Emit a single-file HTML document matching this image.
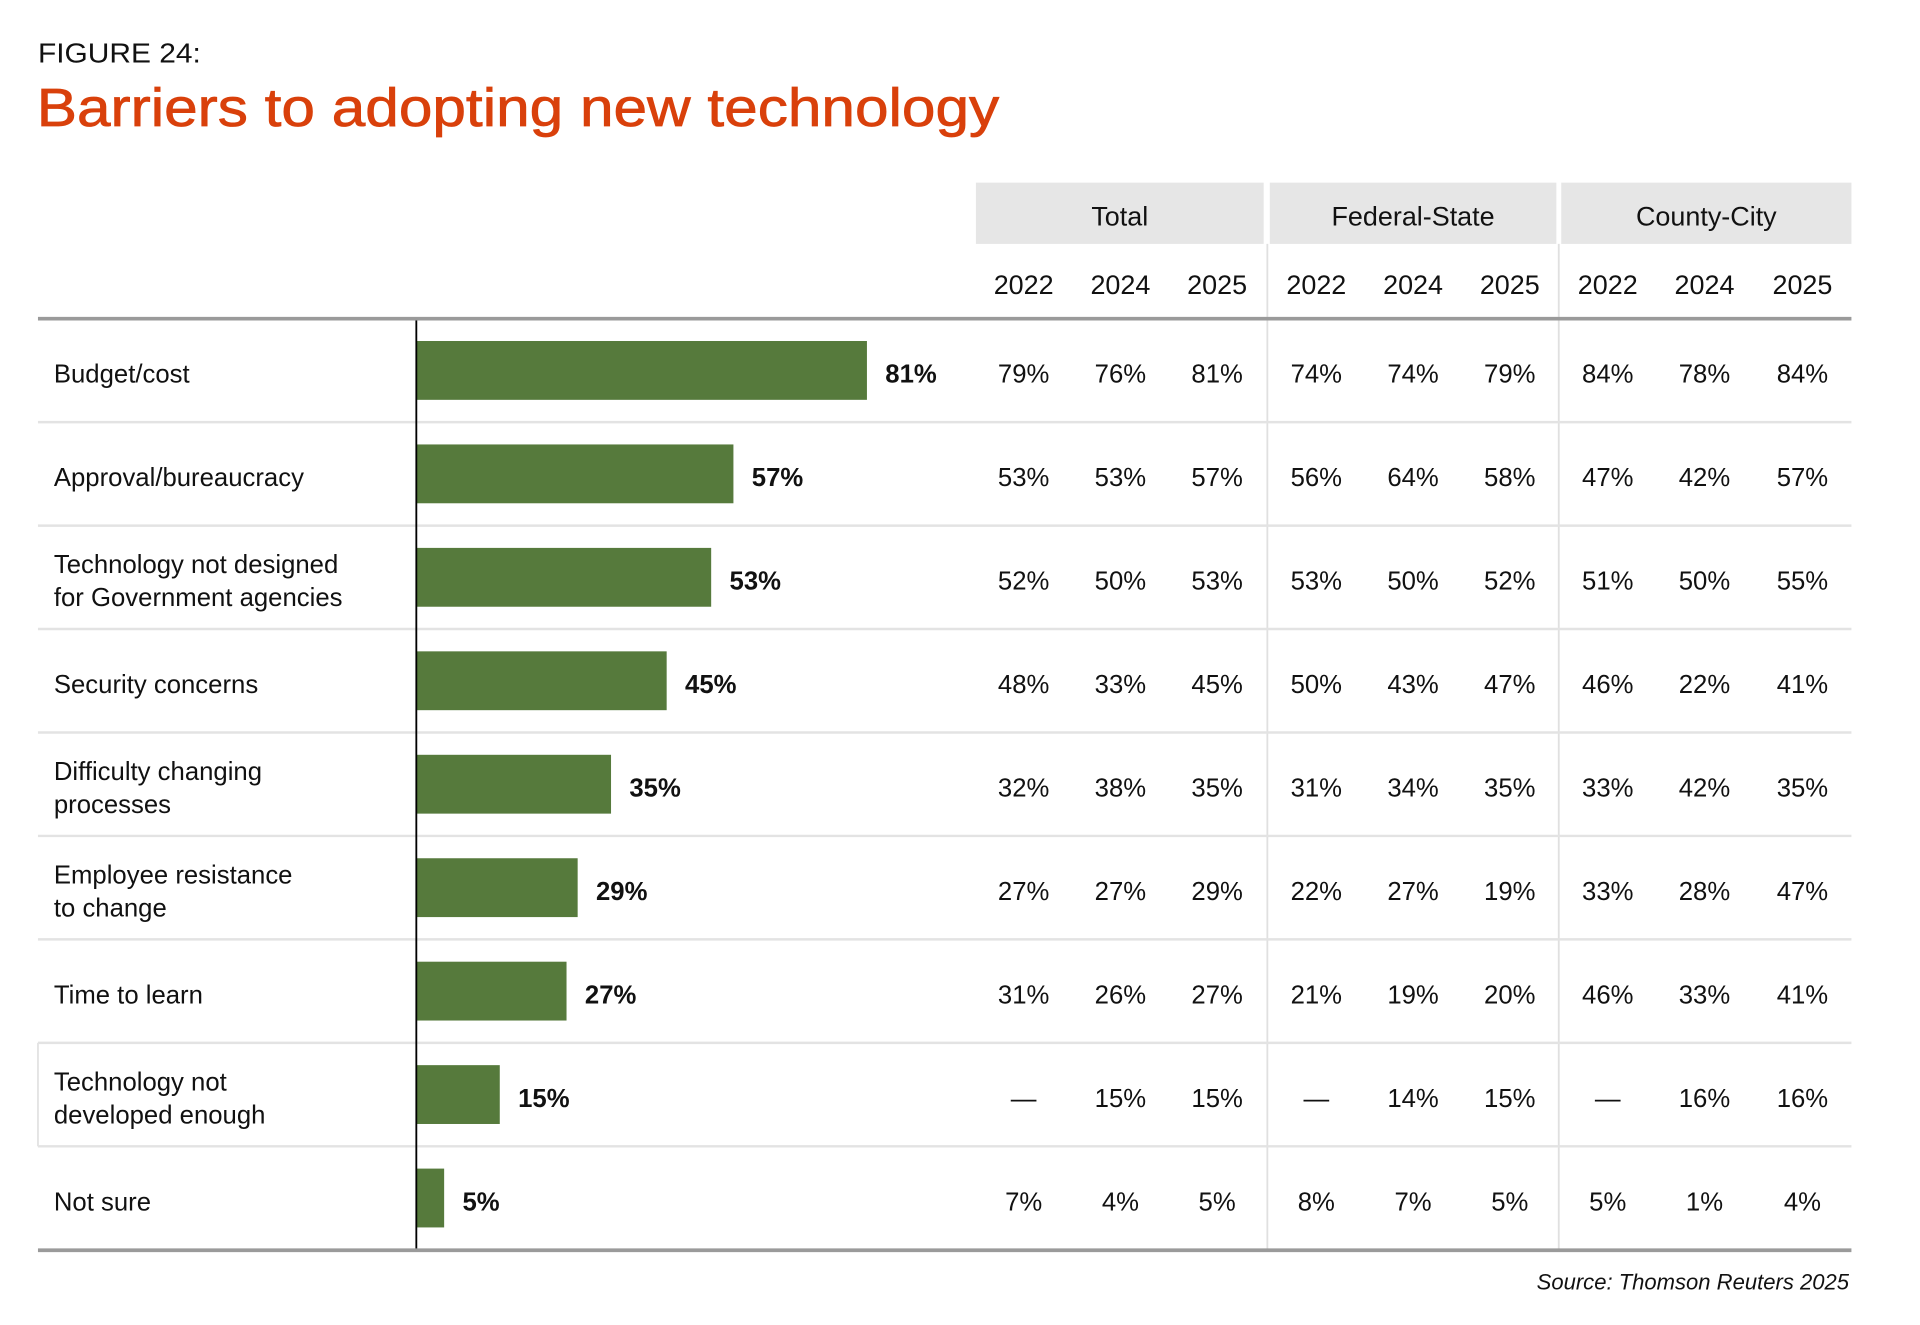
<!DOCTYPE html>
<html><head><meta charset="utf-8">
<style>
html,body{margin:0;padding:0;background:#fff;}
svg{display:block;}
text{font-family:"Liberation Sans",sans-serif;}
</style></head>
<body>
<svg id="chart" width="1920" height="1325" viewBox="0 0 1568 1081" preserveAspectRatio="none" xmlns="http://www.w3.org/2000/svg">
<text x="31" y="51" font-size="23" fill="#111" textLength="133" lengthAdjust="spacingAndGlyphs">FIGURE 24:</text>
<text x="30" y="103" font-size="44" fill="#d9400b" stroke="#d9400b" stroke-width="0.6" textLength="786" lengthAdjust="spacingAndGlyphs">Barriers to adopting new technology</text>
<g id="marks"></g>
<text x="1510" y="1052" font-size="18" font-style="italic" fill="#111" text-anchor="end">Source: Thomson Reuters 2025</text>
</svg>
<script>
const categories = [["Budget/cost"],["Approval/bureaucracy"],["Technology not designed","for Government agencies"],["Security concerns"],["Difficulty changing","processes"],["Employee resistance","to change"],["Time to learn"],["Technology not","developed enough"],["Not sure"]];
const barValues = [81,57,53,45,35,29,27,15,5];
const groups = ["Total","Federal-State","County-City"];
const years = ["2022","2024","2025"];
const totalValues = [["79%","76%","81%"],["53%","53%","57%"],["52%","50%","53%"],["48%","33%","45%"],["32%","38%","35%"],["27%","27%","29%"],["31%","26%","27%"],["—","15%","15%"],["7%","4%","5%"]];
const fedStateValues = [["74%","74%","79%"],["56%","64%","58%"],["53%","50%","52%"],["50%","43%","47%"],["31%","34%","35%"],["22%","27%","19%"],["21%","19%","20%"],["—","14%","15%"],["8%","7%","5%"]];
const countyCityValues = [["84%","78%","84%"],["47%","42%","57%"],["51%","50%","55%"],["46%","22%","41%"],["33%","42%","35%"],["33%","28%","47%"],["46%","33%","41%"],["—","16%","16%"],["5%","1%","4%"]];

const NS="http://www.w3.org/2000/svg";
const g=document.getElementById('marks');
function el(tag,attrs,txt){const e=document.createElementNS(NS,tag);for(const k in attrs)e.setAttribute(k,attrs[k]);if(txt!==undefined)e.textContent=txt;g.appendChild(e);return e;}
const top0=260, rowH=84.4, axisX=340, pxPer=368/81;
const xScale=v=>axisX+v*pxPer;
const rowY=i=>top0+i*rowH;
const colX=[836,915,994,1075,1154,1233,1313,1392,1472];
const groupBox=[[797,1032],[1037,1271],[1275,1512]];
const allTables=[totalValues,fedStateValues,countyCityValues];

groups.forEach((gname,k)=>{
  const r=el('rect',{x:groupBox[k][0],y:149,width:groupBox[k][1]-groupBox[k][0],height:50,fill:'#e6e6e6'});
  
  
  const t=el('text',{x:(groupBox[k][0]+groupBox[k][1])/2,y:184,'font-size':22,'text-anchor':'middle',fill:'#111'},gname);
  
  
  years.forEach((y,j)=>{
    const yt=el('text',{x:colX[k*3+j],y:240,'font-size':22,'text-anchor':'middle',fill:'#111'},y);
    
    
  });
});
[1035,1273].forEach(x=>{
  const l=el('line',{x1:x,y1:199,x2:x,y2:1020,stroke:'#e0e0e0','stroke-width':1.5});
  
  
});
for(let i=1;i<categories.length;i++){
  const l=el('line',{x1:31,y1:rowY(i),x2:1512,y2:rowY(i),stroke:'#e3e3e3','stroke-width':2});
  
  
}
const hb=el('line',{x1:31,y1:rowY(7),x2:31,y2:rowY(8),stroke:'#e3e3e3','stroke-width':1.5});



categories.forEach((lines,i)=>{
  const cy=rowY(i)+rowH/2;
  const n=lines.length;
  lines.forEach((ln,j)=>{
    const t=el('text',{x:44,y:cy+10+(j-(n-1)/2)*27,'font-size':21,fill:'#111'},ln);
    
    
  });
  const v=barValues[i];
  const b=el('rect',{x:axisX,y:cy-24,width:xScale(v)-axisX,height:48,fill:'#567a3c'});
  
  
  const vt=el('text',{x:xScale(v)+15,y:cy+10,'font-size':21,'font-weight':'bold',fill:'#111'},v+'%');
  
  
  allTables.forEach((tbl,k)=>{
    tbl[i].forEach((val,j)=>{
      const c=el('text',{x:colX[k*3+j],y:cy+10,'font-size':21,'text-anchor':'middle',fill:'#111'},val);
      
      
    });
  });
});
const ax=el('line',{x1:axisX,y1:260,x2:axisX,y2:1020,stroke:'#000','stroke-width':1.5});


const tr=el('line',{x1:31,y1:260,x2:1512,y2:260,stroke:'#9a9a9a','stroke-width':3});


const br=el('line',{x1:31,y1:1020,x2:1512,y2:1020,stroke:'#9a9a9a','stroke-width':3});


</script>
</body></html>
